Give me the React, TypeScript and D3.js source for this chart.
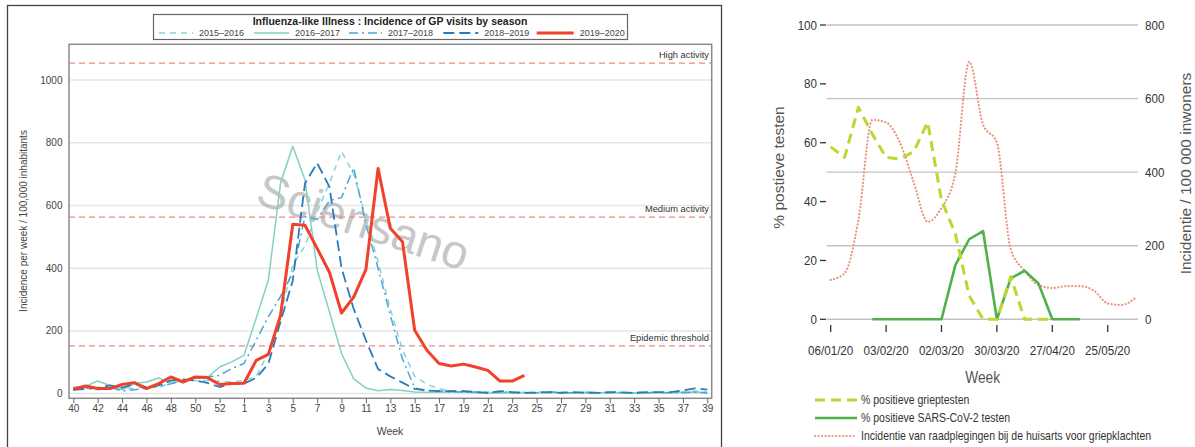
import React, { useEffect, useRef } from 'react';
import * as d3 from 'd3';

// ---------- left panel: ILI incidence of GP visits by season ----------
const weekLabels = [
  '40', '41', '42', '43', '44', '45', '46', '47', '48', '49', '50', '51', '52', '53',
  '1', '2', '3', '4', '5', '6', '7', '8', '9', '10', '11', '12', '13', '14', '15', '16', '17', '18', '19', '20',
  '21', '22', '23', '24', '25', '26', '27', '28', '29', '30', '31', '32', '33', '34', '35', '36', '37', '38', '39',
];

const ili1516 = [
  21, 18, 12, 15, 21, 15, 23, 18, 37, 37, 42, 42, 39, 37,
  42, 55, 130, 250, 410, 470, 580, 670, 772, 700, 560, 420, 270, 140, 55, 30, 15, 10, 8, 6,
  5, 6, 4, 3, 4, 6, 5, 3, 4, 3, 4, 3, 3, 4, 3, 4, 5, 8, 5,
];
const ili1617 = [
  19, 23, 40, 26, 12, 32, 37, 50, 32, 42, 50, 51, 85, 101,
  122, 240, 362, 672, 789, 682, 395, 262, 128, 47, 18, 9, 13, 10, 5, 4, 4, 4, 5, 3,
  2, 3, 2, 2, 3, 4, 3, 3, 2, 3, 3, 2, 3, 2, 3, 3, 4, 5, 3,
];
const ili1718 = [
  15, 18, 18, 21, 8, 12, 18, 23, 31, 42, 48, 53, 58, 80,
  96, 170, 245, 310, 385, 565, 555, 615, 625, 720, 540, 400, 250, 110, 18, 10, 8, 6, 5, 4,
  3, 5, 3, 4, 3, 5, 3, 3, 4, 3, 3, 4, 3, 3, 4, 3, 3, 4, 2,
];
const ili1819 = [
  12, 15, 18, 26, 18, 31, 21, 26, 42, 45, 42, 34, 21, 32,
  32, 50, 95, 230, 360, 670, 735, 660, 400, 270, 170, 78, 55, 35, 15, 10, 8, 8, 8, 5,
  2, 8, 5, 2, 3, 5, 2, 5, 3, 2, 5, 4, 2, 5, 5, 5, 10, 17, 13,
];
const ili1920 = [
  14, 24, 16, 16, 29, 35, 16, 32, 53, 37, 53, 51, 29, 32,
  33, 106, 125, 250, 540, 537, 463, 388, 257, 308, 396, 718, 527, 484, 202, 138, 96, 88, 94, 85,
  74, 40, 40, 58,
];
const seasonNames = ['2015\u20132016', '2016\u20132017', '2017\u20132018', '2018\u20132019', '2019\u20132020'];
const thresholdValues = [152, 563, 1054];
const thresholdNames = ['Epidemic threshold', 'Medium activity', 'High activity'];
const leftTicks = [0, 200, 400, 600, 800, 1000];

// ---------- right panel: % positive tests and GP incidence ----------
const rightWeeks = [
  '2020-01-06', '2020-01-13', '2020-01-20', '2020-01-27', '2020-02-03', '2020-02-10', '2020-02-17', '2020-02-24',
  '2020-03-02', '2020-03-09', '2020-03-16', '2020-03-23', '2020-03-30', '2020-04-06', '2020-04-13', '2020-04-20',
  '2020-04-27', '2020-05-04', '2020-05-11', '2020-05-18', '2020-05-25', '2020-06-01', '2020-06-08',
];
const pctFlu = [58.6, 55, 72, 63, 55, 54.5, 57, 67, 40.5, 29, 8, 0, 0, 14.5, 0, 0, 0, null, null, null, null, null, null];
const pctCovid = [null, null, null, 0, 0, 0, 0, 0, 0, 18.4, 27.2, 30, 0, 13.9, 16.5, 12.2, 0, 0, 0, null, null, null, null];
const gpIncidence = [107, 125, 270, 542, 535, 480, 372, 265, 303, 397, 700, 530, 480, 190, 132, 93, 85, 90, 90, 78, 43, 39, 58];
const rightDateTicks = ['2020-01-06', '2020-02-03', '2020-03-02', '2020-03-30', '2020-04-27', '2020-05-25'];
const rightDateLabels = ['06/01/20', '03/02/20', '02/03/20', '30/03/20', '27/04/20', '25/05/20'];
const pctTicks = [0, 20, 40, 60, 80, 100];
const incTicks = [0, 200, 400, 600, 800];
const rightLegend = [
  '% positieve grieptesten',
  '% positieve SARS-CoV-2 testen',
  'Incidentie van raadplegingen bij de huisarts voor griepklachten',
];

const FONT = "'Liberation Sans', Arial, sans-serif";

const App: React.FC = () => {
  const ref = useRef<SVGSVGElement | null>(null);

  useEffect(() => {
    if (!ref.current) return;
    const svg = d3.select(ref.current);
    svg.selectAll('*').remove();
    svg.attr('font-family', FONT);

    // ================= LEFT =================
    const L = svg.append('g');
    const plot = { left: 69, right: 711.7, top: 44.3, bottom: 398.3 };

    const x = d3.scalePoint<string>().domain(weekLabels).range([73.3, 707.3]);
    const y = d3.scaleLinear().domain([-15, 1114]).range([plot.bottom, plot.top]);

    L.append('rect')
      .attr('x', 7.5).attr('y', 5.5).attr('width', 714).attr('height', 470)
      .attr('fill', 'none').attr('stroke', '#444').attr('stroke-width', 1.3);

    L.selectAll('line.grid')
      .data(leftTicks)
      .join('line')
      .attr('class', 'grid')
      .attr('x1', plot.left).attr('x2', plot.right)
      .attr('y1', d => y(d)).attr('y2', d => y(d))
      .attr('stroke', '#e6e6e6').attr('stroke-width', 1.5);

    // watermark
    L.append('text')
      .attr('transform', 'translate(254,203) rotate(18)')
      .attr('font-size', 47)
      .attr('fill', '#9a9a9a')
      .attr('opacity', 0.55)
      .text('Sciensano');

    thresholdValues.forEach((v, i) => {
      L.append('line')
        .attr('x1', plot.left).attr('x2', plot.right)
        .attr('y1', y(v)).attr('y2', y(v))
        .attr('stroke', '#f28a80').attr('stroke-width', 1.2)
        .attr('stroke-dasharray', '6 4');
      L.append('text')
        .attr('x', 709).attr('y', y(v) - 5)
        .attr('text-anchor', 'end')
        .attr('font-size', 9.3)
        .attr('fill', '#333')
        .text(thresholdNames[i]);
    });

    const styles = [
      { data: ili1516, color: '#86d3dc', width: 1.5, dash: '6 5' },
      { data: ili1617, color: '#84d1c2', width: 1.5, dash: null },
      { data: ili1718, color: '#4aa6d8', width: 1.5, dash: '9 4 2 4' },
      { data: ili1819, color: '#2b7bba', width: 1.8, dash: '11 5' },
      { data: ili1920, color: '#f2412a', width: 3, dash: null },
    ];

    const line = d3.line<number>()
      .x((_, i) => x(weekLabels[i])!)
      .y(d => y(d));

    styles.forEach(s => {
      L.append('path')
        .datum(s.data)
        .attr('d', line)
        .attr('fill', 'none')
        .attr('stroke', s.color)
        .attr('stroke-width', s.width)
        .attr('stroke-dasharray', s.dash)
        .attr('stroke-linejoin', 'round');
    });

    // plot frame
    L.append('rect')
      .attr('x', plot.left).attr('y', plot.top)
      .attr('width', plot.right - plot.left).attr('height', plot.bottom - plot.top)
      .attr('fill', 'none').attr('stroke', '#8a8a8a').attr('stroke-width', 1.5);

    // y axis labels
    L.selectAll('text.ytick')
      .data(leftTicks)
      .join('text')
      .attr('class', 'ytick')
      .attr('x', 62.5).attr('y', d => y(d) + 3.5)
      .attr('text-anchor', 'end')
      .attr('font-size', 10)
      .attr('fill', '#444')
      .text(d => d);

    // x axis
    const xAxis = d3.axisBottom(x)
      .tickValues(weekLabels.filter((_, i) => i % 2 === 0))
      .tickSize(5)
      .tickSizeOuter(0);
    L.append('g')
      .attr('transform', `translate(0,${plot.bottom})`)
      .call(xAxis)
      .call(g => g.select('.domain').remove())
      .call(g => g.selectAll('.tick line').attr('stroke', '#666'))
      .call(g => g.selectAll('.tick text')
        .attr('font-family', FONT)
        .attr('font-size', 10)
        .attr('fill', '#444')
        .attr('dy', '0.55em'));

    L.append('text')
      .attr('x', 390).attr('y', 435)
      .attr('text-anchor', 'middle')
      .attr('font-size', 10.5)
      .attr('fill', '#444')
      .text('Week');

    L.append('text')
      .attr('transform', `translate(27,221) rotate(-90)`)
      .attr('text-anchor', 'middle')
      .attr('font-size', 10)
      .attr('fill', '#444')
      .text('Incidence per week / 100,000 inhabitants');

    // legend box
    L.append('rect')
      .attr('x', 153.5).attr('y', 14.5).attr('width', 474).attr('height', 25)
      .attr('fill', '#fff').attr('stroke', '#666').attr('stroke-width', 1.2);
    L.append('text')
      .attr('x', 390).attr('y', 25.3)
      .attr('text-anchor', 'middle')
      .attr('font-size', 10.5)
      .attr('font-weight', 'bold')
      .attr('fill', '#222')
      .text('Influenza-like Illness : Incidence of GP visits by season');
    const legendX = [159, 254, 349, 443.3, 536.7];
    const legendW = [34, 35, 33, 35, 37];
    styles.forEach((s, i) => {
      L.append('line')
        .attr('x1', legendX[i]).attr('x2', legendX[i] + legendW[i])
        .attr('y1', 33).attr('y2', 33)
        .attr('stroke', s.color).attr('stroke-width', s.width)
        .attr('stroke-dasharray', s.dash);
      L.append('text')
        .attr('x', legendX[i] + legendW[i] + 6).attr('y', 36.2)
        .attr('font-size', 9)
        .attr('fill', '#444')
        .text(seasonNames[i]);
    });

    // ================= RIGHT =================
    const R = svg.append('g');
    const parse = d3.utcParse('%Y-%m-%d');
    const dates = rightWeeks.map(d => parse(d)!);
    const xr = d3.scaleUtc()
      .domain([parse('2020-01-06')!, parse('2020-05-25')!])
      .range([830.7, 1107.7]);
    const yPct = d3.scaleLinear().domain([0, 100]).range([319.3, 25]);
    const yInc = d3.scaleLinear().domain([0, 800]).range([319.3, 25]);
    const SX = 0.86;

    const sqText = (g: any, tx: number, ty: number, str: string, size: number, anchor: string, fill = '#333', sx = SX) =>
      g.append('text')
        .attr('transform', `translate(${tx},${ty}) scale(${sx},1)`)
        .attr('text-anchor', anchor)
        .attr('font-size', size)
        .attr('fill', fill)
        .text(str);

    incTicks.forEach(t => {
      R.append('line')
        .attr('x1', 826.7).attr('x2', 1138)
        .attr('y1', yInc(t)).attr('y2', yInc(t))
        .attr('stroke', '#c2c2c2').attr('stroke-width', 1.4);
      sqText(R, 1145, yInc(t) + 4.5, String(t), 13.5, 'start');
    });
    pctTicks.forEach(t => {
      R.append('line')
        .attr('x1', 820).attr('x2', 826)
        .attr('y1', yPct(t)).attr('y2', yPct(t))
        .attr('stroke', '#333').attr('stroke-width', 1.3);
      sqText(R, 817, yPct(t) + 4.5, String(t), 13.5, 'end');
    });
    rightDateTicks.forEach((d, i) => {
      const px = xr(parse(d)!);
      R.append('line')
        .attr('x1', px).attr('x2', px)
        .attr('y1', 325).attr('y2', 332)
        .attr('stroke', '#333').attr('stroke-width', 1.3);
      sqText(R, px, 354.5, rightDateLabels[i], 13.5, 'middle');
    });

    sqText(R, 982.7, 383, 'Week', 16, 'middle', '#555');
    R.append('text')
      .attr('transform', 'translate(784,167.5) rotate(-90)')
      .attr('text-anchor', 'middle')
      .attr('font-size', 15.5)
      .attr('fill', '#555')
      .text('% postieve testen');
    R.append('text')
      .attr('transform', 'translate(1191,173.5) rotate(-90)')
      .attr('text-anchor', 'middle')
      .attr('font-size', 15.5)
      .attr('fill', '#555')
      .text('Incidentie / 100 000 inwoners');

    const rLine = (yy: d3.ScaleLinear<number, number>, curve: d3.CurveFactory) =>
      d3.line<number | null>()
        .defined(d => d !== null)
        .x((_, i) => xr(dates[i]))
        .y(d => yy(d as number))
        .curve(curve);

    const rightStyles = [
      { data: gpIncidence, scale: yInc, curve: d3.curveMonotoneX, color: '#ea9480', width: 2.2, dash: '0.1 3.4', cap: 'round' },
      { data: pctCovid, scale: yPct, curve: d3.curveLinear, color: '#4fb148', width: 2.6, dash: null, cap: 'butt' },
      { data: pctFlu, scale: yPct, curve: d3.curveLinear, color: '#bdd631', width: 3, dash: '10 6', cap: 'butt' },
    ];
    rightStyles.forEach(s => {
      R.append('path')
        .datum(s.data)
        .attr('d', rLine(s.scale, s.curve))
        .attr('fill', 'none')
        .attr('stroke', s.color)
        .attr('stroke-width', s.width)
        .attr('stroke-dasharray', s.dash)
        .attr('stroke-linecap', s.cap)
        .attr('stroke-linejoin', 'round');
    });

    // legend (texts squeezed horizontally like the source image)
    const legendOrder = [rightStyles[2], rightStyles[1], rightStyles[0]];
    legendOrder.forEach((s, i) => {
      const ly = 400 + i * 18;
      R.append('line')
        .attr('x1', 815).attr('x2', 857)
        .attr('y1', ly).attr('y2', ly)
        .attr('stroke', s.color)
        .attr('stroke-width', s.width)
        .attr('stroke-dasharray', s.dash)
        .attr('stroke-linecap', s.cap);
      sqText(R, 861, ly + 4.2, rightLegend[i], 12.8, 'start', '#333', 0.82);
    });
  }, []);

  return (
    <svg
      ref={ref}
      width={1195}
      height={447}
      style={{ position: 'absolute', left: 0, top: 0, background: '#fff' }}
    />
  );
};

export default App;
